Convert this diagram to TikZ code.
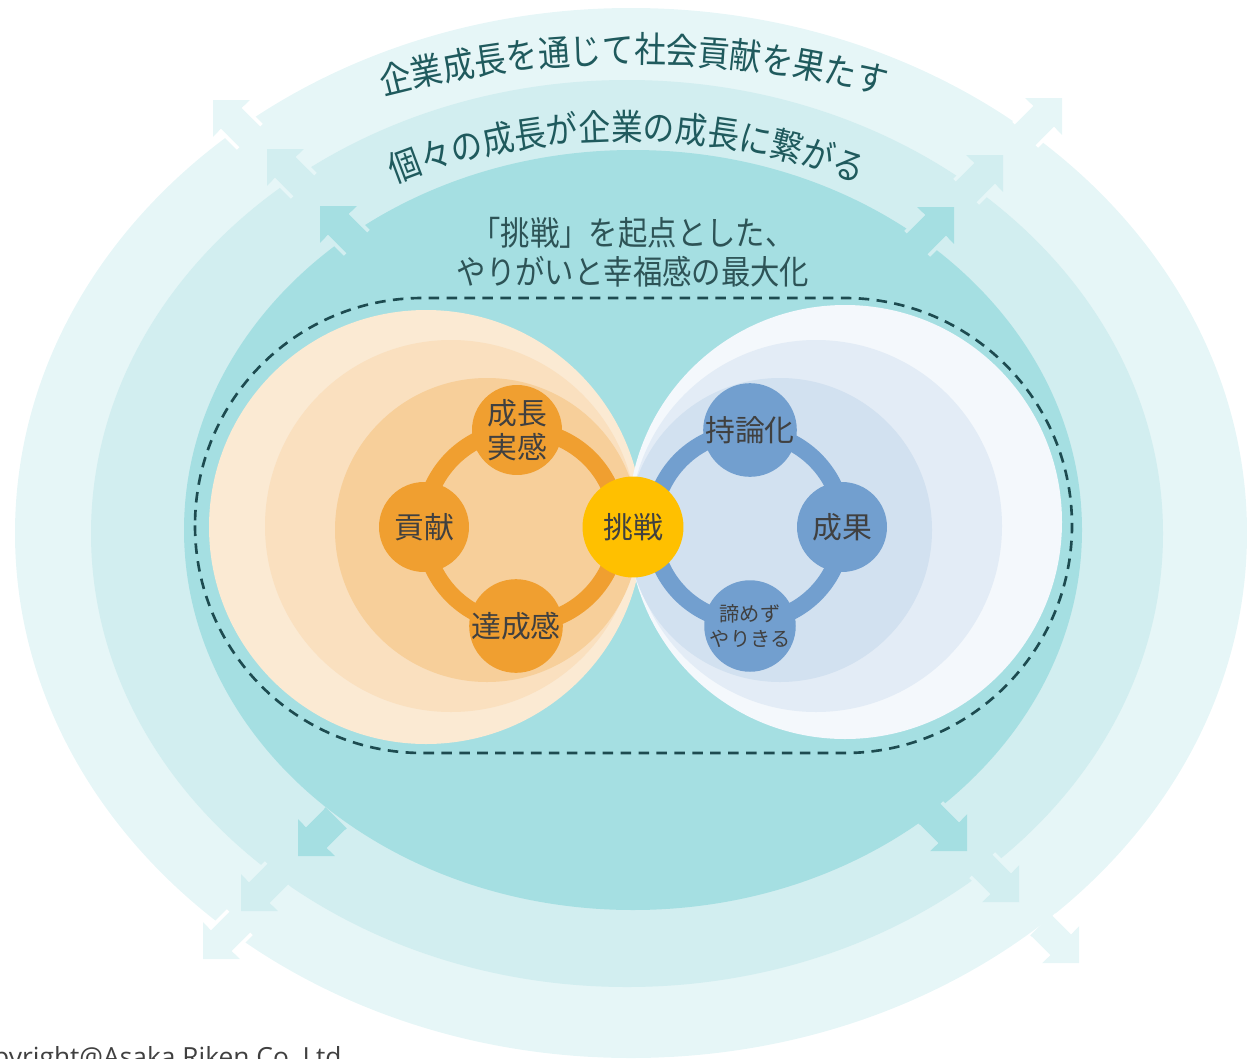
\documentclass[tikz,border=0pt]{standalone}
\usepackage{fontspec}
\setmainfont{Noto Sans CJK JP}
\newfontfamily\cjk{Noto Sans CJK JP}
\newfontfamily\cjkn[FakeStretch=0.88]{Noto Sans CJK JP}
\newfontfamily\latinsans{Open Sans}
\usetikzlibrary{decorations.text}
\definecolor{ringA}{HTML}{E6F6F7}
\definecolor{ringB}{HTML}{D2EEF0}
\definecolor{ringC}{HTML}{A5DFE2}
\definecolor{orA}{HTML}{FBEAD3}
\definecolor{orB}{HTML}{FAE0BF}
\definecolor{orC}{HTML}{F7CF9A}
\definecolor{blA}{HTML}{F4F8FC}
\definecolor{blB}{HTML}{E3ECF6}
\definecolor{blC}{HTML}{D2E1F0}
\definecolor{orN}{HTML}{F09F30}
\definecolor{blN}{HTML}{729FCF}
\definecolor{yelN}{HTML}{FFC000}
\definecolor{txt}{HTML}{404040}
\definecolor{tealA}{HTML}{1F5A5D}
\definecolor{tealB}{HTML}{2D5356}
\definecolor{dashcol}{HTML}{1D4B50}
\newcommand\outarrow[5]{%
  \begin{scope}[shift={(#1,#2)},rotate=#3]
    \fill[#4] (0,0) -- (-26,26) -- (-26,15) -- (-54,15) -- (-54,-15) -- (-26,-15) -- (-26,-26) -- cycle;
    \draw[#5, line width=2pt] (-26,16.5) -- (-52,16.5) (-26,-16.5) -- (-52,-16.5);
  \end{scope}}
\tikzset{
  bub/.style={circle, inner sep=0pt, minimum size=1.8cm, text=txt, align=center,
    font=\cjk\fontsize{17}{19.3}\selectfont},
  bubO/.style={bub, fill=orN},
  bubB/.style={bub, fill=blN},
  bubY/.style={bub, fill=yelN, minimum size=2.02cm},
  ringline/.style={line width=0.34cm},
}
\begin{document}
\begin{tikzpicture}[x=0.02cm,y=-0.02cm]
\useasboundingbox (0,0) rectangle (1247,1058);
\clip (0,0) rectangle (1247,1058);
% outer ring
\fill[ringA] (631,533) ellipse[x radius=616, y radius=525];
\outarrow{213}{100}{135}{ringA}{white}
\outarrow{1062}{98}{45}{ringA}{white}
\outarrow{203}{959}{225}{ringA}{white}
\outarrow{1079}{963}{315}{ringA}{white}
% middle ring
\fill[ringB] (627,533.5) ellipse[x radius=536, y radius=453.5];
\outarrow{267}{149}{135}{ringB}{ringA}
\outarrow{1003}{155}{45}{ringB}{ringA}
\outarrow{241}{911}{225}{ringB}{ringA}
\outarrow{1019}{902}{315}{ringB}{ringA}
% inner ring
\fill[ringC] (633,530) ellipse[x radius=449, y radius=380];
\outarrow{320}{206}{135}{ringC}{ringB}
\outarrow{954}{207}{45}{ringC}{ringB}
\outarrow{298}{856}{225}{ringC}{ringB}
\outarrow{967}{851}{315}{ringC}{ringB}
% curved texts
\path[decorate, decoration={text along path, text align=center,
  text={|\cjkn\fontsize{20.5}{24}\selectfont\color{tealA}|企業成長を通じて社会貢献を果たす}}]
  plot[domain=150:30, samples=80] ({634+682*cos(\x)},{530-467*sin(\x)});
\path[decorate, decoration={text along path, text align=center,
  text={|\cjkn\fontsize{20.5}{24}\selectfont\color{tealA}|個々の成長が企業の成長に繋がる}}]
  plot[domain=150:30, samples=80] ({627+501*cos(\x)},{527-387*sin(\x)});
% heading
\node[align=center, text=tealB, font=\cjkn\fontsize{19}{22.2}\selectfont] (head) at (633,252.5)
  {「挑戦」を起点とした、\\やりがいと幸福感の最大化};
% soft circles
\fill[orA] (426,527) circle[radius=217];
\fill[orB] (451,526) circle[radius=186];
\fill[orC] (487,530) circle[radius=152];
\fill[blA] (845,522) circle[radius=217];
\fill[blB] (816,526) circle[radius=186];
\fill[blC] (780,530) circle[radius=152];
% dashed frame
\draw[dashcol, line width=1.5pt, dash pattern=on 6pt off 4.2pt, rounded corners=4.55cm]
  (195,298) rectangle (1072,753);
% cycles
\draw[orN, ringline] (521,527) circle[radius=97];
\draw[blN, ringline] (748,527) circle[radius=95];
\node[bubO] (seicho) at (517,430) {成長\\実感};
\node[bubO] (koken) at (424,527) {貢献};
\node[bubO] (tassei) at (516,626) {達成感};
\node[bubB] (jiron) at (750,430) {持論化};
\node[bubB] (seika) at (842,527) {成果};
\node[bubB, font=\cjk\fontsize{11.5}{14.7}\selectfont] (akirame) at (750,626) {諦めず\\やりきる};
\node[bubY] (chosen) at (633,527) {挑戦};
% copyright
\node[anchor=base east, text=txt, font=\latinsans\fontsize{15}{17}\selectfont, inner sep=0pt]
  (copy) at (349,1066) {Copyright@Asaka Riken Co.,Ltd.};
\end{tikzpicture}
\end{document}
